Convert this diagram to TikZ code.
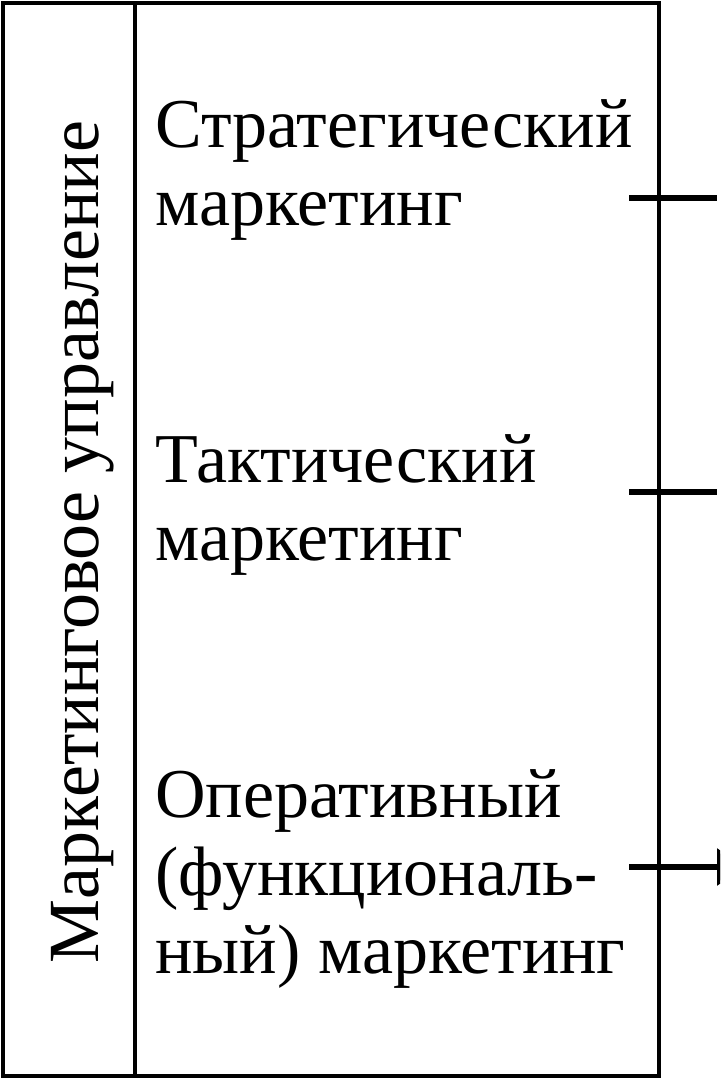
\documentclass[tikz,border=0pt]{standalone}
\usepackage{fontspec}
\setmainfont{Liberation Serif}
\usetikzlibrary{arrows.meta}
\tikzset{
  lbl/.style={anchor=base west,align=left,inner sep=0pt,font=\fontsize{35}{39}\selectfont},
  frame/.style={draw=black,line width=2.2pt},
  tick/.style={draw=black,line width=2.8pt}
}
\begin{document}
\begin{tikzpicture}[x=0.5pt,y=-0.5pt]
  \clip (0,0) rectangle (720,1080);
  \fill[white] (0,0) rectangle (720,1080);
  \draw[frame] (3,3) rectangle (659,1076);
  \draw[frame] (135,3) -- (135,1076);
  \node[lbl,rotate=90,anchor=base,font=\fontsize{36}{40}\selectfont] (title) at (98,542) {Маркетинговое управление};
  \node[lbl] (strat) at (155,226) {Стратегический\\маркетинг};
  \node[lbl] (takt) at (155,560) {Тактический\\маркетинг};
  \node[lbl] (oper) at (155,973) {Оперативный\\(функциональ-\\ный) маркетинг};
  \foreach \n/\y in {s/198,t/492}{
    \coordinate (\n a) at (629,\y);
    \coordinate (\n b) at (717,\y);
    \draw[tick] (\n a) -- (\n b);
  }
  \coordinate (oa) at (629,867);
  \coordinate (ob) at (745,867);
  \draw[tick,-{Triangle[width=18pt,length=14pt]}] (oa) -- (ob);
\end{tikzpicture}
\end{document}
